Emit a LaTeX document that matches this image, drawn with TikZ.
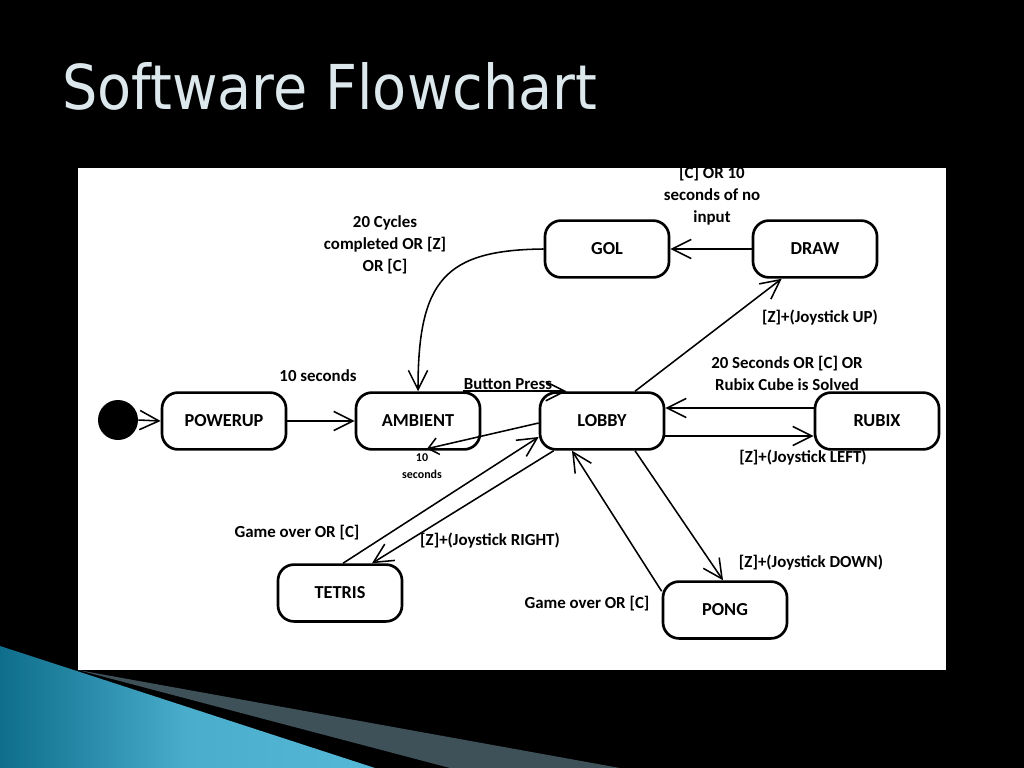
\documentclass[tikz,border=0pt]{standalone}
\usepackage{fontspec}
\setmainfont{Carlito}
\newfontfamily\titlefont{DejaVu Sans}
\usepackage{graphicx}
\usetikzlibrary{positioning,calc,arrows.meta}
\definecolor{titlegray}{RGB}{220,232,236}
\definecolor{swooshdark}{RGB}{14,110,140}
\definecolor{swooshlight}{RGB}{84,184,214}
\definecolor{wedgegray}{RGB}{62,80,88}

\begin{document}
\begin{tikzpicture}[x=0.025cm,y=-0.025cm]
            \tikzset{
                stbox/.style={draw,line width=1.9pt,rounded corners=0.4cm,minimum width=3.1cm,minimum height=1.42cm,font=\bfseries\fontsize{13}{15}\selectfont},
                lbl/.style={font=\bfseries\fontsize{12}{15.6}\selectfont,align=center,inner sep=0pt},
                trans/.style={line width=1.1pt,-{Straight Barb[length=0.48cm,width=0.48cm]}},}
            \def\slide{(0,0) rectangle (1024,768)}
            \fill [black]\slide ;
            \shade [left color=swooshdark,right color=swooshlight,middle color=swooshlight!85!swooshdark] (0,646) -- (375,768) -- (0,768) -- cycle;
            \fill [wedgegray] (78,670) -- (620,768) -- (450,768) -- cycle;
            \node [anchor=base west,text=titlegray,font=\titlefont\fontsize{44}{50}\selectfont,inner sep=0pt] (title) at (62,110) {\scalebox{0.9}[1]{Software Flowchart}};
            \fill [white] (78,168) rectangle (946,670);
            % states
            \fill (118,420) coordinate (c) circle(20);
            \node [circle,minimum size=1cm,inner sep=0pt] (init) at (c) {};
            \node [stbox] (powerup) at (224,421) {POWERUP};
            \node [stbox] (ambient) at (418,421) {AMBIENT};
            \node [stbox] (lobby) at (602,421) {LOBBY};
            \node [stbox] (rubix) at (877,421) {RUBIX};
            \node [stbox] (gol) at (607,249) {GOL};
            \node [stbox] (draw) at (815,249) {DRAW};
            \node [stbox] (tetris) at (340,593) {TETRIS};
            \node [stbox] (pong) at (725,610) {PONG};
            % transitions
            \draw [trans] (init.east) -- (powerup.west);
            \draw [trans] (powerup.east) -- (ambient.west);
            \draw [trans] ($(ambient.north east)+(-18,0)$) -- ($(lobby.north west)+(28,0)$);
            \draw [line width=1.1pt,-{Straight Barb[length=0.25cm,width=0.42cm]}] ($(lobby.west)+(0,2)$) -- ($(ambient.south)+(9,-2)$);
            \draw [trans] (gol.west) .. controls (445,250) and (418,280) .. (ambient.north);
            \draw [trans] (draw.west) -- (gol.east);
            \draw [trans] ($(lobby.north)+(33,0)$) -- ($(draw.south west)+(30,0)$);
            \draw [trans] ($(rubix.west)+(0,-13)$) -- ($(lobby.east)+(0,-13)$);
            \draw [trans] ($(lobby.east)+(0,15)$) -- ($(rubix.west)+(0,15)$);
            \draw [trans] ($(tetris.north)+(3,0)$) -- ($(lobby.west)+(0,16)$);
            \draw [trans] ($(lobby.south west)+(15,0)$) -- ($(tetris.north)+(32,0)$);
            \draw [trans] ($(lobby.south)+(33,0)$) -- ($(pong.north)+(-2,0)$);
            \draw [trans] ($(pong.north west)+(0,11)$) -- ($(lobby.south)+(-30,0)$);
            % labels
            \node [lbl] (l-ten) at (318,376) {10 seconds};
            \node [lbl] (l-cycles) at (385,245) {20 Cycles\\completed OR [Z]\\OR [C]};
            \node [lbl] (l-input) at (712,196) {[C] OR 10\\seconds of no\\input};
            \node [lbl] (l-up) at (820,318) {[Z]+(Joystick UP)};
            \node [lbl] (l-solved) at (787,373) {20 Seconds OR [C] OR\\Rubix Cube is Solved};
            \node [lbl] (l-left) at (803,458) {[Z]+(Joystick LEFT)};
            \node [lbl] (l-press) at (508,384) {Button Press};
            \node [lbl,font=\bfseries\fontsize{8.5}{12}\selectfont] (l-back) at (422,466) {10\\seconds};
            \node [lbl] (l-over1) at (297,533) {Game over OR [C]};
            \node [lbl] (l-right) at (490,541) {[Z]+(Joystick RIGHT)};
            \node [lbl] (l-down) at (811,563) {[Z]+(Joystick DOWN)};
            \node [lbl] (l-over2) at (587,604) {Game over OR [C]};
        \end{tikzpicture}
\end{document}
